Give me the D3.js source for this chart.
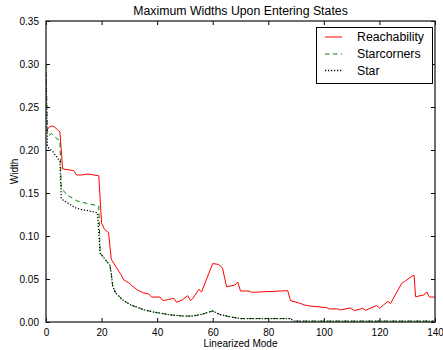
<!DOCTYPE html>
<html><head><meta charset="utf-8">
<script src="https://cdn.jsdelivr.net/npm/d3@7"></script>
<style>body{margin:0;background:#fff}svg{display:block}text{font-family:"Liberation Sans",Arial,sans-serif}</style>
</head><body><svg id="c" width="443" height="350"></svg>
<script>
const title = "Maximum Widths Upon Entering States";
const xLabel = "Linearized Mode";
const yLabel = "Width";
const xTicks = [0,20,40,60,80,100,120,140];
const yTicks = [0,0.05,0.10,0.15,0.20,0.25,0.30,0.35];
const seriesNames = ["Reachability","Starcorners","Star"];

const reachX = [0,1,2,3,4,5,6,8,10,11,13,15,17,19,20,21,22.5,23.5,25,27,28,30,31,33,35,37,38,41,42,44,46,47,49,51,52,53,55,56,60,62,63.5,65,68,69,70,73,74,87,88,91,93,95,100,101,102,105,106,109.5,111,114,115,119,120,121.5,123,124,128,129,132,132.5,133,136,137,138,140];
const reachY = [0.222,0.226,0.228,0.227,0.224,0.221,0.178,0.177,0.176,0.171,0.171,0.172,0.171,0.170,0.115,0.108,0.104,0.073,0.065,0.055,0.049,0.045,0.042,0.037,0.034,0.0325,0.029,0.029,0.025,0.026,0.0275,0.023,0.0256,0.0306,0.0248,0.028,0.038,0.035,0.068,0.067,0.063,0.041,0.043,0.0465,0.036,0.036,0.0345,0.0364,0.0248,0.0222,0.0198,0.0186,0.017,0.0167,0.0152,0.0152,0.014,0.0163,0.0132,0.016,0.0136,0.0192,0.016,0.0198,0.024,0.0215,0.045,0.047,0.054,0.054,0.0294,0.0314,0.035,0.029,0.029];

const cornX = [0,0.5,1,2,3,4,5,5.5,8,11,14.5,19,19.5,20.5,22,23,23.5,24,25,27.5,30.5,33,35.3,40,45,50,53,56.5,58,60,62.5,66,70,88,89,140];
const cornY = [0.30,0.222,0.217,0.219,0.216,0.213,0.211,0.155,0.147,0.141,0.138,0.135,0.080,0.076,0.070,0.066,0.056,0.042,0.034,0.026,0.0198,0.017,0.014,0.0108,0.0082,0.0068,0.007,0.0093,0.011,0.0128,0.0088,0.0062,0.004,0.004,0.001,0.001];

const starX = [0,0.5,1,2.5,4.3,5,5.5,6,8,11,15,18.5,19.5,20.5,22,23,23.5,24,25,27.5,30.5,33,35.3,40,45,50,53,56.5,58,60,62.5,66,70,88,89,140];
const starY = [0.29,0.205,0.202,0.198,0.190,0.186,0.144,0.142,0.138,0.132,0.1295,0.127,0.080,0.076,0.070,0.066,0.056,0.042,0.034,0.026,0.0198,0.017,0.014,0.0108,0.0082,0.0068,0.007,0.0093,0.011,0.0128,0.0088,0.0062,0.004,0.004,0.001,0.001];

const L=46, R=435, T=21, B=322;
const svg = d3.select("#c");
svg.append("rect").attr("width",443).attr("height",350).attr("fill","#fff");
const x = d3.scaleLinear().domain([0,140]).range([L,R]);
const y = d3.scaleLinear().domain([0,0.35]).range([B,T]);

svg.append("clipPath").attr("id","cp").append("rect").attr("x",L).attr("y",T).attr("width",R-L).attr("height",B-T);
const line = d3.line().x(d=>x(d[0])).y(d=>y(d[1]));
const series = [
  {xs:reachX, ys:reachY, color:"#ff0000", dash:null, w:1},
  {xs:cornX, ys:cornY, color:"#008000", dash:"4.5,3.5", w:1},
  {xs:starX, ys:starY, color:"#000000", dash:"1.2,1.8", w:1.3}
];
const g = svg.append("g").attr("clip-path","url(#cp)");
series.forEach(s=>{
  g.append("path").datum(s.xs.map((v,i)=>[v,s.ys[i]])).attr("d",line)
   .attr("fill","none").attr("stroke",s.color).attr("stroke-width",s.w)
   .attr("stroke-dasharray",s.dash);
});

const fs = "10px";
const ax = (a)=>{a.select(".domain").remove(); a.selectAll("line").attr("stroke","#000"); a.selectAll("text").attr("font-size",fs).attr("fill","#000");};
svg.append("g").attr("transform",`translate(0,${B})`).call(d3.axisBottom(x).tickValues(xTicks).tickFormat(d3.format("d")).tickSizeInner(-4).tickSizeOuter(0).tickPadding(7)).call(ax);
svg.append("g").attr("transform",`translate(0,${T})`).call(d3.axisTop(x).tickValues(xTicks).tickFormat("").tickSizeInner(-4).tickSizeOuter(0)).call(ax);
svg.append("g").attr("transform",`translate(${L},0)`).call(d3.axisLeft(y).tickValues(yTicks).tickFormat(d3.format(".2f")).tickSizeInner(-4).tickSizeOuter(0).tickPadding(7)).call(ax);
svg.append("g").attr("transform",`translate(${R},0)`).call(d3.axisRight(y).tickValues(yTicks).tickFormat("").tickSizeInner(-4).tickSizeOuter(0)).call(ax);
svg.append("rect").attr("x",L).attr("y",T).attr("width",R-L).attr("height",B-T).attr("fill","none").attr("stroke","#222").attr("stroke-width",1.3);

svg.append("text").attr("x",(L+R)/2).attr("y",15).attr("text-anchor","middle").attr("font-size","12.3px").text(title);
svg.append("text").attr("x",(L+R)/2).attr("y",347).attr("text-anchor","middle").attr("font-size",fs).text(xLabel);
svg.append("text").attr("transform",`translate(18,${(T+B)/2}) rotate(-90)`).attr("text-anchor","middle").attr("font-size",fs).text(yLabel);

// legend
const lg = svg.append("g");
lg.append("rect").attr("x",316.5).attr("y",27.5).attr("width",116).attr("height",56).attr("fill","#fff").attr("stroke","#000").attr("stroke-width",1);
const rowsY=[37,54,70.5];
series.forEach((s,i)=>{
  lg.append("line").attr("x1",325).attr("x2",342).attr("y1",rowsY[i]).attr("y2",rowsY[i]).attr("stroke",s.color).attr("stroke-width",s.w).attr("stroke-dasharray",s.dash);
  lg.append("text").attr("x",357).attr("y",rowsY[i]+4.3).attr("font-size","12.3px").text(seriesNames[i]);
});
</script></body></html>
